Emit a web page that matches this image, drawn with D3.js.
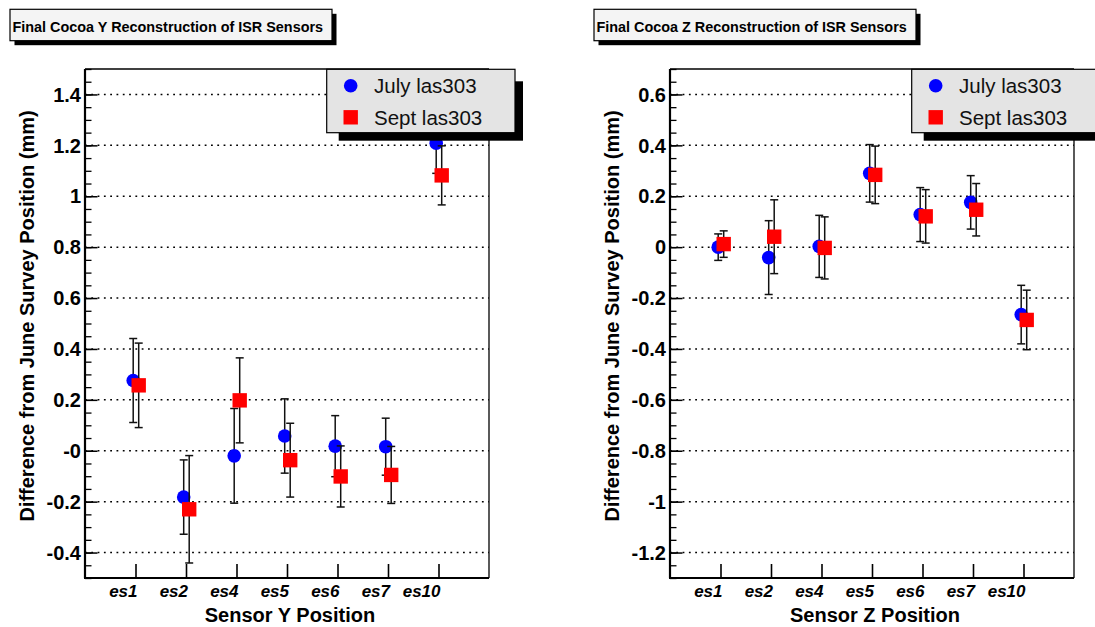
<!DOCTYPE html>
<html>
<head>
<meta charset="utf-8">
<script src="https://cdn.jsdelivr.net/npm/d3@7"></script>
<style>
  html, body { margin: 0; padding: 0; background: #ffffff; }
  svg { display: block; }
  text { font-family: "Liberation Sans", Arial, Helvetica, sans-serif; }
</style>
</head>
<body>
<svg id="chart" width="1095" height="627"></svg>
<script>
// ---------------- data ----------------
const categories = ["es1", "es2", "es4", "es5", "es6", "es7", "es10"];
const seriesNames = ["July las303", "Sept las303"];

// Y reconstruction (mm)
const yJuly    = [0.276, -0.182, -0.020, 0.058, 0.018, 0.016, 1.208];
const yJulyErr = [0.165, 0.146, 0.186, 0.146, 0.120, 0.112, 0.118];
const ySept    = [0.257, -0.230, 0.198, -0.037, -0.101, -0.095, 1.082];
const ySeptErr = [0.166, 0.211, 0.167, 0.145, 0.120, 0.112, 0.116];

// Z reconstruction (mm)
const zJuly    = [0.000, -0.041, 0.003, 0.290, 0.128, 0.176, -0.265];
const zJulyErr = [0.052, 0.145, 0.122, 0.113, 0.106, 0.105, 0.115];
const zSept    = [0.012, 0.041, -0.003, 0.284, 0.121, 0.147, -0.286];
const zSeptErr = [0.052, 0.145, 0.122, 0.113, 0.105, 0.103, 0.117];

// tick values and labels
const yTickValues = [1.4, 1.2, 1, 0.8, 0.6, 0.4, 0.2, 0, -0.2, -0.4];
const yTickLabels = ["1.4", "1.2", "1", "0.8", "0.6", "0.4", "0.2", "-0", "-0.2", "-0.4"];
const zTickValues = [0.6, 0.4, 0.2, 0, -0.2, -0.4, -0.6, -0.8, -1, -1.2];
const zTickLabels = ["0.6", "0.4", "0.2", "0", "-0.2", "-0.4", "-0.6", "-0.8", "-1", "-1.2"];

const titles = ["Final Cocoa Y Reconstruction of ISR Sensors", "Final Cocoa Z Reconstruction of ISR Sensors"];
const xTitles = ["Sensor Y Position", "Sensor Z Position"];
const yTitle = "Difference from June Survey Position (mm)";

// ---------------- drawing ----------------
const svg = d3.select("#chart");

const panels = [
  { left: 85, titleX: 10, domain: [-0.5, 1.5], ticks: yTickValues, labels: yTickLabels,
    july: yJuly, julyErr: yJulyErr, sept: ySept, septErr: ySeptErr, title: titles[0], xTitle: xTitles[0] },
  { left: 670, titleX: 594, domain: [-1.3, 0.7], ticks: zTickValues, labels: zTickLabels,
    july: zJuly, julyErr: zJulyErr, sept: zSept, septErr: zSeptErr, title: titles[1], xTitle: xTitles[1] }
];

const plotTop = 69, plotW = 404, plotH = 509;

panels.forEach(p => {
  const g = svg.append("g");
  const x = d3.scaleLinear().domain([0, categories.length + 1]).range([p.left, p.left + plotW]);
  const y = d3.scaleLinear().domain(p.domain).range([plotTop + plotH, plotTop]);

  // grid lines (dotted)
  g.selectAll("line.grid").data(p.ticks).join("line")
    .attr("x1", p.left).attr("x2", p.left + plotW)
    .attr("y1", d => y(d)).attr("y2", d => y(d))
    .attr("stroke", "#000").attr("stroke-width", 1.5)
    .attr("stroke-dasharray", "1.8,4.5");

  // frame
  g.append("line").attr("x1", p.left).attr("x2", p.left + plotW).attr("y1", plotTop).attr("y2", plotTop)
    .attr("stroke", "#000").attr("stroke-width", 1.3);
  g.append("line").attr("x1", p.left + plotW).attr("x2", p.left + plotW).attr("y1", plotTop).attr("y2", plotTop + plotH)
    .attr("stroke", "#000").attr("stroke-width", 1.3);

  // y axis with minor ticks
  const minor = d3.range(Math.round(p.domain[0] * 20), Math.round(p.domain[1] * 20) + 1).map(v => v / 20);
  const yAxisMinor = d3.axisRight(y).tickValues(minor).tickSize(6.5).tickFormat("");
  const gm = g.append("g").attr("transform", `translate(${p.left},0)`).call(yAxisMinor);
  gm.select(".domain").remove();
  gm.selectAll(".tick line").attr("stroke", "#000").attr("stroke-width", 1.3);

  const yAxis = d3.axisRight(y).tickValues(p.ticks).tickSize(12.5).tickFormat("");
  const ga = g.append("g").attr("transform", `translate(${p.left},0)`).call(yAxis);
  ga.select(".domain").remove();
  ga.selectAll(".tick line").attr("stroke", "#000").attr("stroke-width", 1.5);

  // y tick labels
  g.selectAll("text.ylab").data(p.ticks).join("text")
    .attr("x", p.left - 4).attr("y", d => y(d)).attr("dy", "0.36em")
    .attr("text-anchor", "end").attr("font-size", 20).attr("font-weight", "bold")
    .attr("fill", "#000")
    .text((d, i) => p.labels[i]);

  // left axis line
  g.append("line").attr("x1", p.left).attr("x2", p.left).attr("y1", plotTop).attr("y2", plotTop + plotH)
    .attr("stroke", "#000").attr("stroke-width", 2.2);

  // x axis
  const xAxis = d3.axisTop(x).tickValues(d3.range(1, categories.length + 1)).tickSize(14).tickFormat("");
  const gx = g.append("g").attr("transform", `translate(0,${plotTop + plotH})`).call(xAxis);
  gx.select(".domain").remove();
  gx.selectAll(".tick line").attr("stroke", "#000").attr("stroke-width", 1.6);
  g.append("line").attr("x1", p.left - 1).attr("x2", p.left + plotW).attr("y1", plotTop + plotH).attr("y2", plotTop + plotH)
    .attr("stroke", "#000").attr("stroke-width", 2.2);

  g.selectAll("text.xlab").data(categories).join("text")
    .attr("x", (d, i) => x(i + 1) + 2).attr("y", plotTop + plotH + 19)
    .attr("text-anchor", "end").attr("font-size", 17).attr("font-weight", "bold")
    .attr("font-style", "italic").attr("fill", "#000")
    .text(d => d);

  // axis titles
  g.append("text").attr("x", p.left + plotW / 2 + 3).attr("y", 622)
    .attr("text-anchor", "middle").attr("font-size", 20).attr("font-weight", "bold")
    .text(p.xTitle);
  g.append("text").attr("transform", `translate(${p.left - 51},316) rotate(-90)`)
    .attr("text-anchor", "middle").attr("font-size", 20).attr("font-weight", "bold")
    .text(yTitle);

  // series
  const series = [
    { vals: p.july, errs: p.julyErr, dx: -2.3, type: "circle", color: "#0000ff" },
    { vals: p.sept, errs: p.septErr, dx: 3.2, type: "square", color: "#ff0000" }
  ];
  series.forEach(s => {
    const gs = g.append("g");
    const pts = s.vals.map((v, i) => ({ i, v, e: s.errs[i] }));
    // error bars
    const eb = gs.selectAll("g.eb").data(pts).join("g");
    eb.append("line")
      .attr("x1", d => x(d.i + 1) + s.dx).attr("x2", d => x(d.i + 1) + s.dx)
      .attr("y1", d => y(d.v + d.e)).attr("y2", d => y(d.v - d.e))
      .attr("stroke", "#111").attr("stroke-width", 1.5);
    eb.append("line")
      .attr("x1", d => x(d.i + 1) + s.dx - 4).attr("x2", d => x(d.i + 1) + s.dx + 4)
      .attr("y1", d => y(d.v + d.e)).attr("y2", d => y(d.v + d.e))
      .attr("stroke", "#111").attr("stroke-width", 1.5);
    eb.append("line")
      .attr("x1", d => x(d.i + 1) + s.dx - 4).attr("x2", d => x(d.i + 1) + s.dx + 4)
      .attr("y1", d => y(d.v - d.e)).attr("y2", d => y(d.v - d.e))
      .attr("stroke", "#111").attr("stroke-width", 1.5);
    // markers
    if (s.type === "circle") {
      gs.selectAll("circle").data(pts).join("circle")
        .attr("cx", d => x(d.i + 1) + s.dx).attr("cy", d => y(d.v)).attr("r", 6.8)
        .attr("fill", s.color);
    } else {
      gs.selectAll("rect").data(pts).join("rect")
        .attr("x", d => x(d.i + 1) + s.dx - 7.2).attr("y", d => y(d.v) - 7.2)
        .attr("width", 14.4).attr("height", 14.4).attr("fill", s.color);
    }
  });

  // legend
  const lx = p.left + 241.7, ly = plotTop + 0.3, lw = 188.3, lh = 63.4;
  const gl = g.append("g");
  gl.append("rect").attr("x", lx + 12).attr("y", ly + 12).attr("width", lw - 4).attr("height", lh - 4)
    .attr("fill", "#000");
  gl.append("rect").attr("x", lx).attr("y", ly).attr("width", lw).attr("height", lh)
    .attr("fill", "#e4e4e4").attr("stroke", "#000").attr("stroke-width", 1.2);
  gl.append("circle").attr("cx", lx + 24).attr("cy", ly + 16.4).attr("r", 6.8).attr("fill", "#0000ff");
  gl.append("rect").attr("x", lx + 24 - 7.2).attr("y", ly + 48 - 7.2).attr("width", 14.4).attr("height", 14.4)
    .attr("fill", "#ff0000");
  gl.append("text").attr("x", lx + 47.3).attr("y", ly + 16.4).attr("dy", "0.36em")
    .attr("font-size", 20.5).attr("fill", "#111").text(seriesNames[0]);
  gl.append("text").attr("x", lx + 47.3).attr("y", ly + 48).attr("dy", "0.36em")
    .attr("font-size", 20.5).attr("fill", "#111").text(seriesNames[1]);

  // title box
  const tx = p.titleX, ty = 9.3, tw = 322, th = 31.4;
  g.append("rect").attr("x", tx + 4.5).attr("y", ty + 4.5).attr("width", tw).attr("height", th).attr("fill", "#000");
  g.append("rect").attr("x", tx).attr("y", ty).attr("width", tw).attr("height", th)
    .attr("fill", "#f4f4f4").attr("stroke", "#000").attr("stroke-width", 1.2);
  g.append("text").attr("x", tx + 2.5).attr("y", ty + 22.2)
    .attr("font-size", 14.4).attr("font-weight", "bold").attr("fill", "#000")
    .text(p.title);
});
</script>
</body>
</html>
